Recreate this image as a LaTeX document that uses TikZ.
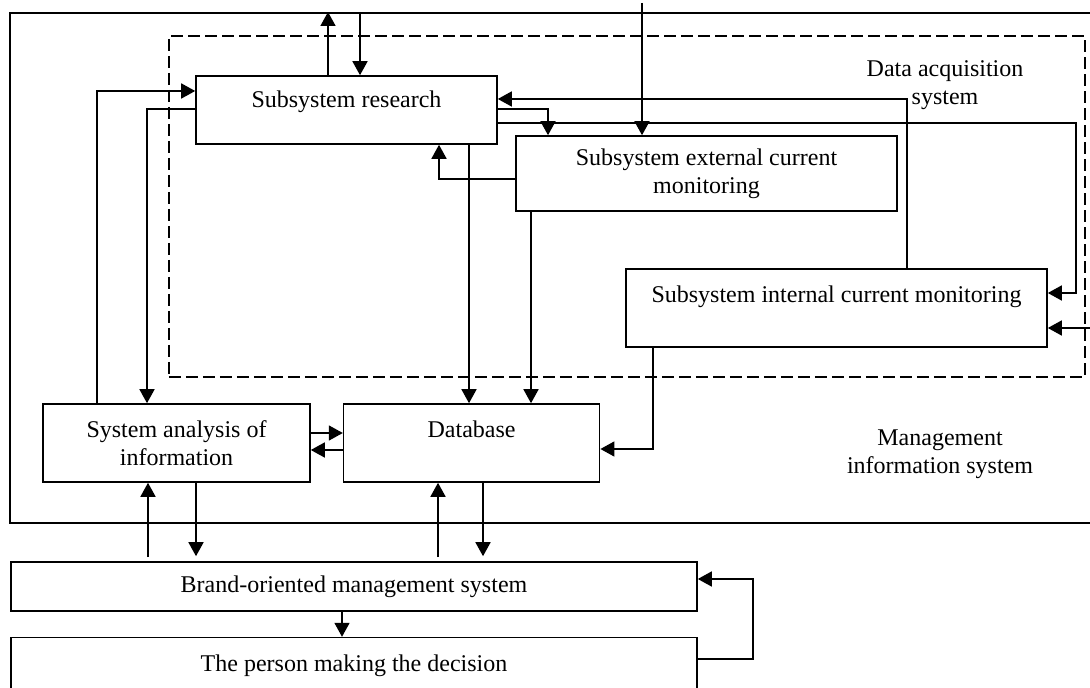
\documentclass[tikz,border=0pt]{standalone}
\usepackage{fontspec}
\setmainfont{Liberation Serif}
\usetikzlibrary{arrows.meta,positioning}
\tikzset{
  box/.style={draw,line width=.8pt,inner sep=0pt,align=center},
  lifted/.style={text height=8pt,text depth=#1},
  frame/.style={draw,line width=.8pt,inner sep=0pt,anchor=north west},
  dashframe/.style={frame,dash pattern=on 6pt off 2.5pt},
  note/.style={align=center,inner sep=0pt},
  flow/.style={-{Triangle[length=7pt,width=7.5pt]},line width=.8pt}
}

\begin{document}
\begin{tikzpicture}[x=.5pt,y=-.5pt,font=\fontsize{12}{14}\selectfont]
  \useasboundingbox (0,0) rectangle (1090,688);
  \clip (0,0) rectangle (1090,688);
  % outer systems
  \node[frame,minimum width=546pt,minimum height=255pt] (mis) at (9,12) {};
  \node[dashframe,minimum width=458pt,minimum height=170.5pt] (das) at (168,35) {};
  \node[note] (daslabel) at (945,85) {Data acquisition\\system};
  \node[note] (mislabel) at (940,454) {Management\\information system};
  % blocks
  \node[box,lifted=10.2pt,minimum width=150.5pt,minimum height=34pt] (research) at (346.5,110) {Subsystem research};
  \node[box,minimum width=190.5pt,minimum height=37.5pt] (ext) at (706.5,173.5) {Subsystem external current\\monitoring};
  \node[box,lifted=13.2pt,minimum width=210.5pt,minimum height=39pt] (internal) at (836.5,308) {Subsystem internal current monitoring};
  \node[box,minimum width=133.5pt,minimum height=39pt] (analysis) at (176.5,443) {System analysis of\\information};
  \node[box,lifted=13.2pt,minimum width=128pt,minimum height=39pt,right=16pt of analysis] (database) {Database};
  \node[box,minimum width=343pt,minimum height=24.5pt] (brand) at (354,586.5) {Brand-oriented management system};
  \node[box,minimum width=343pt,minimum height=28pt,below=12.5pt of brand] (person) {The person making the decision};
  \coordinate (extin) at (642,3);
  \coordinate (intin) at (1094,328);
  % research links
  \draw[flow] (328,0 |- research.north) -- (328,0 |- mis.north);
  \draw[flow] (360,0 |- mis.north) -- (360,0 |- research.north);
  \draw[flow] (97,0 |- analysis.north) |- (research.west |- 0,91);
  \draw[flow] (research.west |- 0,109) -| (147,0 |- analysis.north);
  \draw[flow] (469,0 |- research.south) -- (469,0 |- database.north);
  \draw[flow] (ext.west |- 0,179) -| (439,0 |- research.south);
  \draw[flow] (907,0 |- internal.north) |- (research.east |- 0,99);
  \draw[flow] (research.east |- 0,109) -| (548,0 |- ext.north);
  \draw[flow] (research.east |- 0,123) -| (1076,293) -- (internal.east |- 0,293);
  % monitoring links
  \draw[flow] (extin) -- (extin |- ext.north);
  \draw[flow] (531,0 |- ext.south) -- (531,0 |- database.north);
  \draw[flow] (intin) -- (internal.east |- intin);
  \draw[flow] (653,0 |- internal.south) |- (database.east |- 0,449);
  % analysis and database
  \draw[flow] (analysis.east |- 0,433) -- (database.west |- 0,433);
  \draw[flow] (database.west |- 0,450) -- (analysis.east |- 0,450);
  \draw[flow,shorten <=2pt] (148,0 |- brand.north) -- (148,0 |- analysis.south);
  \draw[flow,shorten >=2.5pt] (196,0 |- analysis.south) -- (196,0 |- brand.north);
  \draw[flow,shorten <=2pt] (438,0 |- brand.north) -- (438,0 |- database.south);
  \draw[flow,shorten >=2.5pt] (483,0 |- database.south) -- (483,0 |- brand.north);
  % decision loop
  \draw[flow] (342,0 |- brand.south) -- (342,0 |- person.north);
  \draw[flow] (person.east |- 0,659) -| (753,579) -- (brand.east |- 0,579);
\end{tikzpicture}
\end{document}
